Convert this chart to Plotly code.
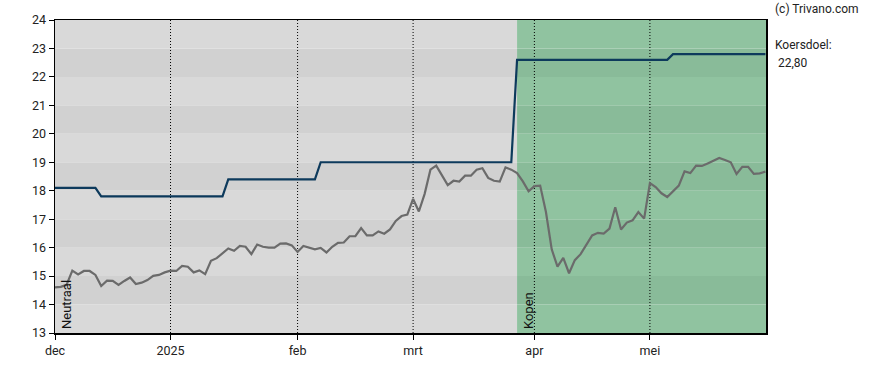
import plotly.graph_objects as go

# Trading-day index (0 = first trading day of December 2024)
day_index = list(range(124))
price = [14.60, 14.62, 14.69, 15.19, 15.06, 15.18, 15.18, 15.04, 14.65, 14.84,
         14.83, 14.69, 14.83, 14.95, 14.72, 14.77, 14.86, 15.01, 15.04, 15.13,
         15.19, 15.18, 15.36, 15.33, 15.13, 15.20, 15.07, 15.54, 15.63, 15.79,
         15.97, 15.89, 16.06, 16.03, 15.77, 16.11, 16.03, 16.00, 16.00, 16.14,
         16.15, 16.08, 15.85, 16.06, 15.99, 15.94, 15.99, 15.83, 16.03, 16.17,
         16.18, 16.40, 16.40, 16.69, 16.43, 16.43, 16.57, 16.49, 16.64, 16.94,
         17.11, 17.16, 17.71, 17.27, 17.89, 18.74, 18.88, 18.55, 18.20, 18.35,
         18.32, 18.53, 18.53, 18.74, 18.79, 18.45, 18.35, 18.32, 18.82, 18.74,
         18.62, 18.33, 17.98, 18.16, 18.18, 17.25, 15.94, 15.33, 15.64, 15.10,
         15.56, 15.77, 16.11, 16.43, 16.52, 16.49, 16.67, 17.42, 16.64, 16.88,
         16.96, 17.25, 17.02, 18.27, 18.13, 17.91, 17.78, 17.98, 18.18, 18.68,
         18.62, 18.88, 18.87, 18.96, 19.05, 19.15, 19.08, 19.00, 18.59, 18.84,
         18.84, 18.59, 18.61, 18.67]

# Koersdoel (price target) vertices
target_x = [0, 7, 8, 29, 30, 45, 46, 79, 80, 106, 107, 123]
target_y = [18.1, 18.1, 17.8, 17.8, 18.4, 18.4, 19.0, 19.0, 22.6, 22.6, 22.8, 22.8]

# Advice regions
advice_labels = ["Neutraal", "Kopen"]
advice_start = [0, 80]

tick_vals = [0, 20, 42, 62, 83, 103]
tick_text = ["dec", "2025", "feb", "mrt", "apr", "mei"]

x_max = 123.1
y_min, y_max = 13, 24
font_family = "Roboto, 'Open Sans', sans-serif"

shapes = []
region_edges = advice_start + [x_max]
light = [("#d9d9d9", "#d1d1d1"), ("#90c3a0", "#89bb99")]
for r in range(len(advice_labels)):
    for yb in range(y_min, y_max):
        col = light[r][1] if yb % 2 == 0 else light[r][0]
        shapes.append(dict(type="rect", xref="x", yref="y", x0=region_edges[r], x1=region_edges[r + 1],
                           y0=yb, y1=yb + 1, fillcolor=col, line=dict(width=0), layer="below"))
for tv in tick_vals[1:]:
    shapes.append(dict(type="line", xref="x", yref="y", x0=tv, x1=tv, y0=y_min, y1=y_max,
                       line=dict(color="black", width=1, dash="1px,2px"), layer="below"))

fig = go.Figure()
fig.add_trace(go.Scatter(x=day_index, y=price, mode="lines",
                         line=dict(color="#6b6b6b", width=2.2), hoverinfo="skip"))
fig.add_trace(go.Scatter(x=target_x, y=target_y, mode="lines",
                         line=dict(color="#0d3a5c", width=2.2), hoverinfo="skip"))

annotations = []
for lab, xs in zip(advice_labels, advice_start):
    annotations.append(dict(x=xs, y=y_min, xref="x", yref="y", text=lab, textangle=-90,
                            showarrow=False, xanchor="left", yanchor="bottom", xshift=2, yshift=2,
                            font=dict(size=13, color="#111", family=font_family)))
side_texts = [("(c) Trivano.com", 773, 9), ("Koersdoel:", 773, 45), ("22,80", 776, 63)]
# page pixel positions -> paper coordinates (plot area spans 55..766 x 20..335 on the page)
for txt, px, py in side_texts:
    annotations.append(dict(x=(px - 55) / (766 - 55), y=1 - (py - 20) / (335 - 20),
                            xref="paper", yref="paper", text=txt, showarrow=False,
                            xanchor="left", yanchor="middle",
                            font=dict(size=12, color="#222", family=font_family)))

fig.update_layout(
    width=888, height=370,
    margin=dict(l=55, r=122, t=20, b=35),
    paper_bgcolor="white", plot_bgcolor="white",
    showlegend=False,
    shapes=shapes,
    annotations=annotations,
    font=dict(family=font_family, size=12, color="#222"),
    xaxis=dict(range=[0, x_max], tickvals=tick_vals, ticktext=tick_text, showgrid=False,
               zeroline=False, showline=True, linecolor="black", linewidth=1.5, mirror=True,
               ticks="outside", ticklen=5, tickcolor="black", tickfont=dict(size=12.5)),
    yaxis=dict(range=[y_min, y_max], dtick=1, showgrid=False, zeroline=False, showline=True,
               linecolor="black", linewidth=1.5, mirror=True, ticks="outside", ticklen=5,
               tickcolor="black", tickfont=dict(size=12.5)),
)

# remove the browser's default 8px body margin so the figure fills the window exactly
fig.write_html("out.html", config={"displayModeBar": False, "staticPlot": True},
               post_script="document.body.style.margin='0';document.body.style.overflow='hidden';")
